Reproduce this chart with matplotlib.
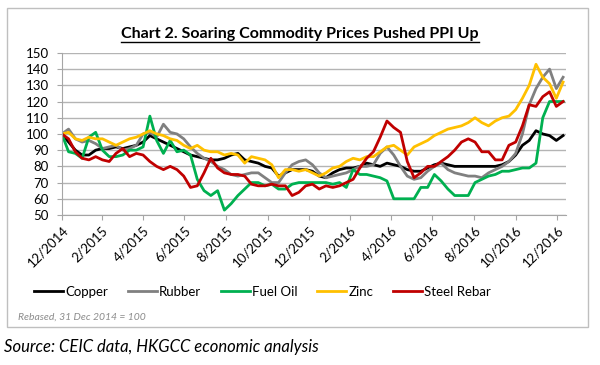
import pandas as pd
import numpy as np
import matplotlib
matplotlib.use("Agg")
import matplotlib.pyplot as plt
from matplotlib.patches import Rectangle
from matplotlib.lines import Line2D

plt.rcParams["font.family"] = ["Lato", "DejaVu Sans"]

# 10-day sampling from the rebasing date
dates = pd.date_range("2014-12-31", periods=75, freq="10D")

copper = [100, 95, 90, 87, 87, 90, 91, 91, 92, 91, 92, 93, 95, 99, 97, 95, 93, 91, 89, 87,
          86, 85, 84, 84, 85, 87, 88, 84, 83, 82, 80, 79, 74, 76, 78, 78,
          78, 77, 74, 73, 76, 78, 79, 79, 80, 82, 81, 80, 82, 81, 80, 78, 77, 77, 79, 81,
          82, 81, 80, 80, 80, 80, 80, 80, 80, 81, 83, 87, 93, 96, 102, 100, 99, 96, 99]
rubber = [100, 103, 97, 95, 96, 94, 91, 92, 93, 90, 91, 93, 100, 101, 98, 106, 101, 100, 97, 92,
          88, 85, 83, 80, 78, 75, 74, 75, 76, 76, 73, 70, 70, 76, 81, 83,
          84, 81, 76, 73, 74, 75, 76, 78, 80, 80, 81, 88, 92, 87, 80, 74, 72, 73, 77, 80,
          82, 78, 76, 75, 74, 74, 73, 76, 78, 80, 83, 88, 100, 118, 128, 135, 140, 128, 135]
fuel_oil = [100, 89, 88, 85, 98, 101, 90, 86, 86, 87, 90, 90, 92, 111, 96, 88, 96, 89, 90, 87,
            72, 65, 62, 65, 53, 57, 62, 66, 70, 70, 68, 69, 66, 66, 69, 70,
            70, 70, 70, 70, 69, 70, 67, 78, 75, 75, 74, 73, 71, 60, 60, 60, 60, 67, 67, 75,
            71, 66, 62, 62, 62, 70, 72, 74, 75, 77, 77, 78, 79, 79, 82, 110, 120, 120, 120]
zinc = [100, 101, 97, 96, 98, 97, 97, 95, 93, 95, 97, 98, 100, 102, 100, 99, 97, 96, 93, 91,
        93, 90, 89, 89, 87, 88, 87, 82, 86, 85, 84, 81, 73, 78, 78, 77,
        78, 76, 74, 76, 79, 80, 83, 85, 84, 86, 86, 89, 92, 93, 90, 87, 92, 94, 96, 99,
        101, 103, 104, 105, 107, 110, 107, 105, 108, 110, 111, 115, 122, 130, 143, 135, 131, 122, 132]
steel_rebar = [100, 97, 89, 85, 84, 86, 84, 83, 88, 91, 86, 88, 87, 83, 80, 78, 80, 78, 74, 67,
               68, 76, 85, 79, 76, 75, 75, 74, 69, 68, 68, 69, 68, 68, 62, 64,
               68, 69, 66, 68, 67, 68, 70, 72, 79, 85, 89, 98, 108, 104, 101, 83, 73, 76, 80, 80,
               83, 86, 90, 95, 97, 95, 89, 89, 84, 84, 93, 95, 105, 118, 117, 123, 126, 117, 120]

names = ["Copper", "Rubber", "Fuel Oil", "Zinc", "Steel Rebar"]
series = [copper, rubber, fuel_oil, zinc, steel_rebar]
colors = ["#000000", "#808080", "#00b050", "#ffc000", "#c00000"]

tick_dates = pd.date_range("2014-12-31", "2016-12-31", freq="2ME")

fig = plt.figure(figsize=(6, 3.65), dpi=100)
ax = fig.add_axes([0.103, 0.411, 0.840, 0.444])

for vals, name, col in zip(series, names, colors):
    ax.plot(dates, vals, color=col, lw=2.0, label=name, solid_joinstyle="round")

ax.set_ylim(50, 150)
ax.set_yticks(range(50, 151, 10))
ax.set_xlim(pd.Timestamp("2014-12-31"), pd.Timestamp("2014-12-31") + pd.Timedelta(days=744))
ax.set_xticks(tick_dates)
ax.set_xticklabels([f"{d.month}/{d.year}" for d in tick_dates], rotation=45,
                   ha="right", rotation_mode="anchor")
ax.grid(axis="y", color="#b4b4b4", lw=1)
ax.set_axisbelow(True)
for s in ["top", "right"]:
    ax.spines[s].set_visible(False)
for s in ["left", "bottom"]:
    ax.spines[s].set_color("#a6a6a6")
ax.tick_params(axis="both", colors="#a6a6a6", labelcolor="black", labelsize=9.5, length=3.5)
ax.tick_params(axis="y", pad=6)
ax.tick_params(axis="x", pad=3)

leg = fig.legend(loc="center", bbox_to_anchor=(0.4375, 0.2), ncol=5, frameon=False,
                 fontsize=9.5, handlelength=2.2, handletextpad=0.15, columnspacing=1.5)

fig.text(0.5, 0.895, "Chart 2. Soaring Commodity Prices Pushed PPI Up",
         ha="center", va="baseline", fontsize=11.5, fontweight="bold")
fig.text(0.03, 0.123, "Rebased, 31 Dec 2014 = 100", fontsize=7.5, style="italic",
         color="#8c8c8c", va="baseline")
fig.text(0.007, 0.035, "Source: CEIC data, HKGCC economic analysis", fontsize=12,
         style="italic", va="baseline")

fig.patches.append(Rectangle((7 / 600, 1 - 327 / 365), 581 / 600, 319 / 365,
                             transform=fig.transFigure, fill=False,
                             edgecolor="#bfbfbf", lw=1))

# underline the title
fig.canvas.draw()
title = fig.texts[0]
bb = title.get_window_extent().transformed(fig.transFigure.inverted())
fig.add_artist(Line2D([bb.x0, bb.x1], [0.885, 0.885], color="black", lw=1,
                      transform=fig.transFigure))

fig.savefig("out.png", dpi=100)
